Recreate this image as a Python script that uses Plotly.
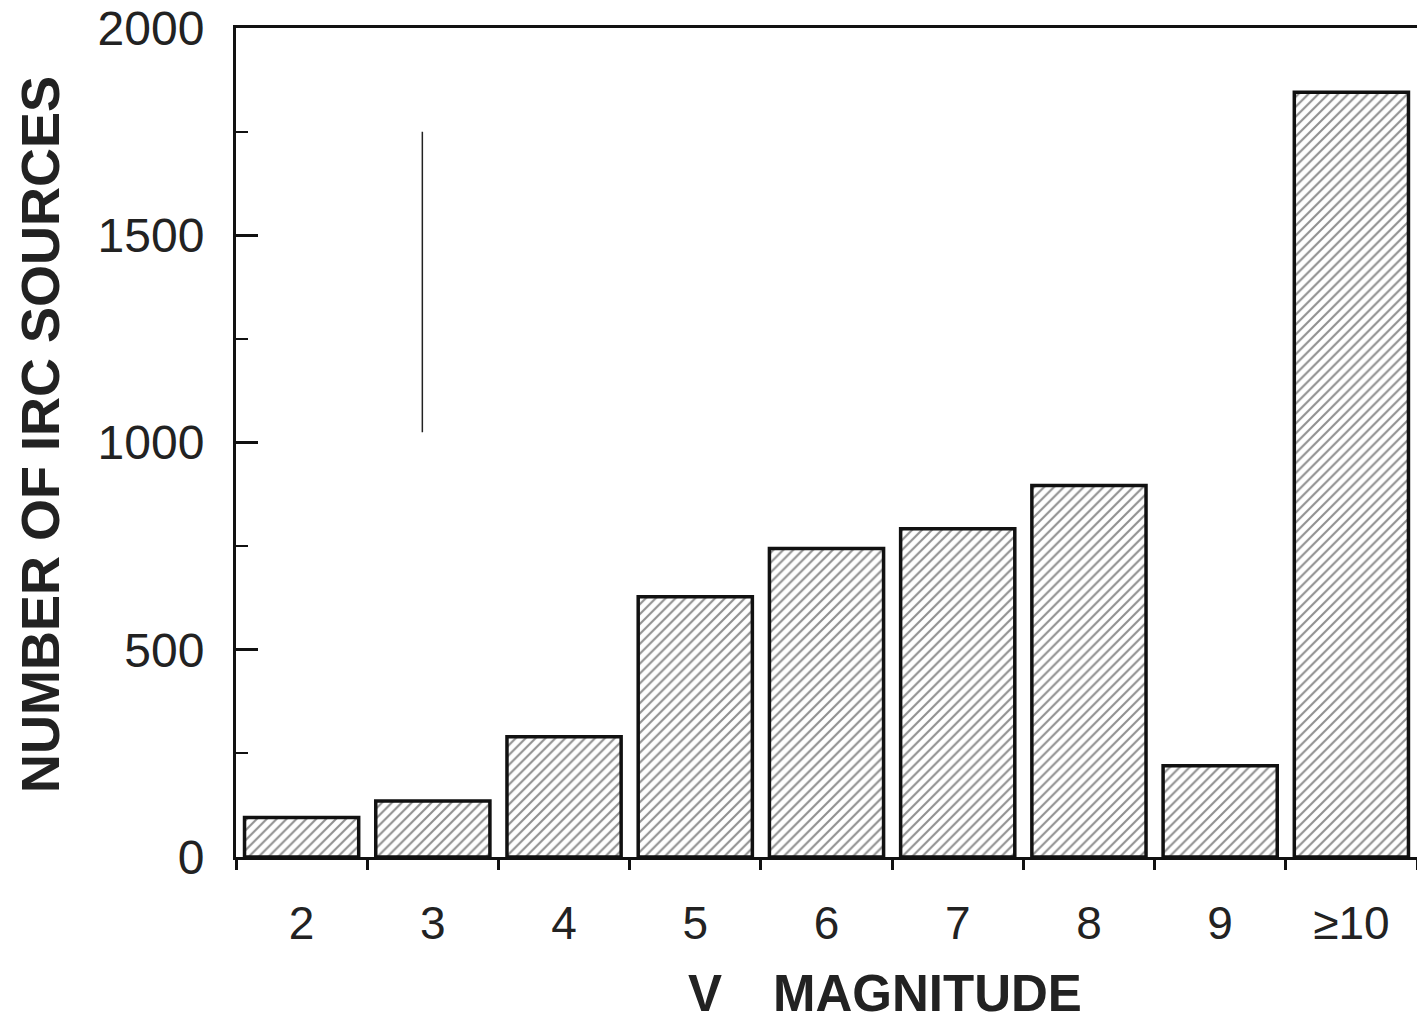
import plotly.graph_objects as go

# Data
magnitudes = ["2", "3", "4", "5", "6", "7", "8", "9", "\u226510"]
counts = [95, 135, 290, 628, 744, 792, 896, 220, 1845]
positions = list(range(len(magnitudes)))
y_tickvals = [0, 500, 1000, 1500, 2000]
y_ticktext = ["0", "500", "1000", "1500", "2000"]
# stray vertical marker line in the figure (x position in category units, y range in counts)
marker_line_x = 0.92
marker_line_y = [1025, 1750]

fig = go.Figure()
fig.add_trace(go.Bar(
    x=positions, y=counts, width=0.87,
    marker=dict(
        color="white",
        line=dict(color="#111", width=3.5),
        pattern=dict(shape="/", fgcolor="#222", bgcolor="white", size=7, solidity=0.3),
    ),
    showlegend=False,
))
fig.add_trace(go.Scatter(
    x=[marker_line_x, marker_line_x], y=marker_line_y, mode="lines",
    line=dict(color="#222", width=1.5), showlegend=False, hoverinfo="skip",
))

fig.update_layout(
    width=1417, height=1025,
    margin=dict(l=236, r=0, t=28, b=168),
    paper_bgcolor="white", plot_bgcolor="white",
    bargap=0.13,
    annotations=[
        dict(text="NUMBER OF IRC SOURCES", xref="paper", yref="paper", x=0, y=0.509,
             xanchor="center", yanchor="middle", xshift=-196, textangle=-90, showarrow=False,
             font=dict(family="Liberation Sans", size=54, color="#222", weight="bold")),
        dict(text="V\u2003MAGNITUDE", xref="paper", yref="paper", x=0.5495, y=0,
             xanchor="center", yanchor="middle", yshift=-136, showarrow=False,
             font=dict(family="Liberation Sans", size=51, color="#222", weight="bold")),
    ],
)
fig.update_xaxes(
    range=[-0.5, 8.5], automargin=False,
    tickmode="array", tickvals=positions, ticktext=magnitudes,
    ticks="", showgrid=False, zeroline=False,
    showline=True, linecolor="#111", linewidth=3, mirror=True,
    tickfont=dict(family="Liberation Sans", size=46, color="#222"),
    ticklabelstandoff=24,
    minor=dict(tick0=0.5, dtick=1, ticks="outside", ticklen=10, tickwidth=2.5, tickcolor="#111", showgrid=False),
)
fig.update_yaxes(
    range=[0, 2000], automargin=False,
    tickmode="array", tickvals=y_tickvals, ticktext=y_ticktext,
    ticks="inside", ticklen=22, tickwidth=2.5, tickcolor="#111",
    showgrid=False, zeroline=False,
    showline=True, linecolor="#111", linewidth=3,
    tickfont=dict(family="Liberation Sans", size=48, color="#222"),
    ticklabelstandoff=19, ticklabeloverflow="allow",
    minor=dict(tick0=250, dtick=500, ticks="inside", ticklen=12, tickwidth=2, tickcolor="#111", showgrid=False),
)

fig.write_html("out.html", config={"displayModeBar": False},
               post_script="document.body.style.margin='0';")
